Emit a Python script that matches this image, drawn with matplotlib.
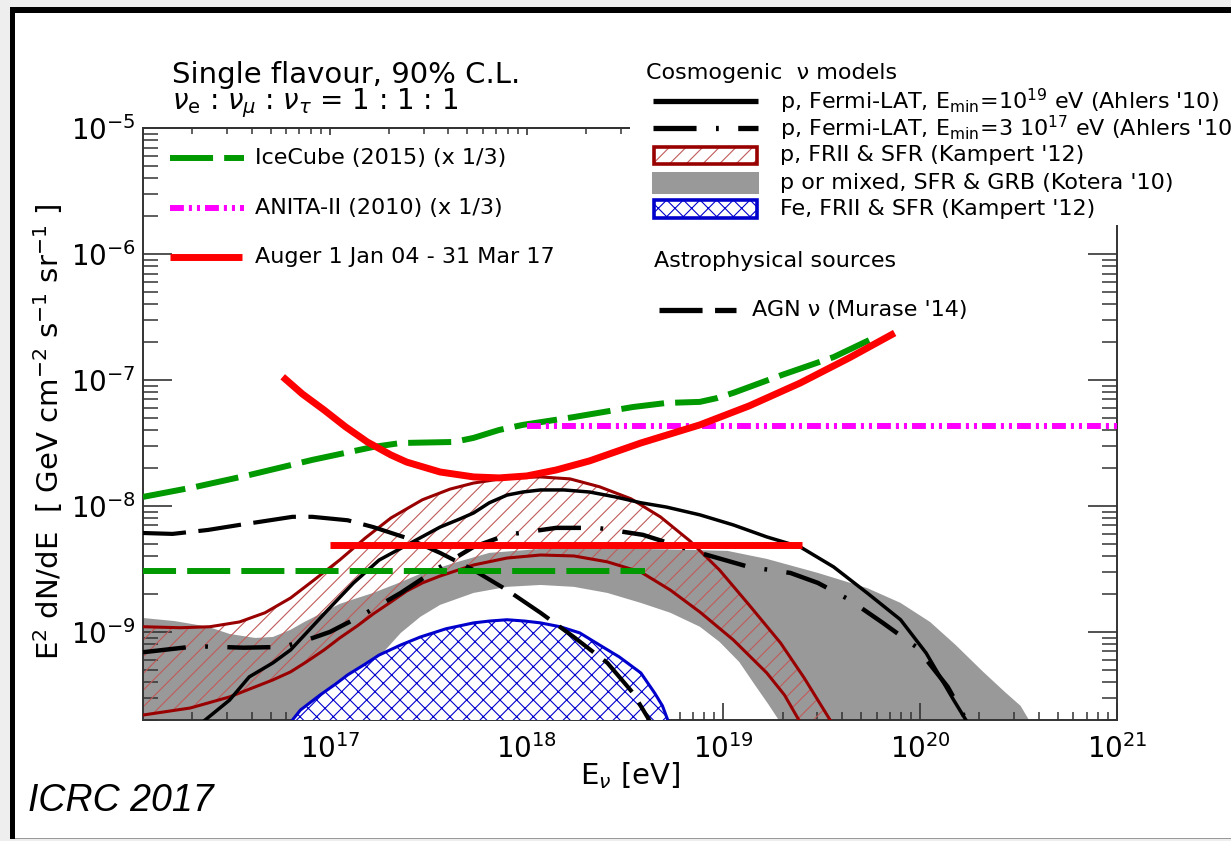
import numpy as np
import matplotlib
matplotlib.use("Agg")
import matplotlib.pyplot as plt
from matplotlib.patches import Rectangle, Polygon
from matplotlib.ticker import LogLocator, NullFormatter, LogFormatterMathtext

plt.rcParams['font.family'] = ['DejaVu Sans']
plt.rcParams['mathtext.fontset'] = 'dejavusans'
plt.rcParams['lines.scale_dashes'] = False
plt.rcParams['hatch.linewidth'] = 0.8

# ---------------------------------------------------------------------------
# Data: log10(E_nu / eV) and E^2 dN/dE in GeV cm^-2 s^-1 sr^-1
# ---------------------------------------------------------------------------
icecube_lgE = [16.05, 16.32, 16.59, 16.91, 17.22, 17.36, 17.63, 17.73, 17.86,
               17.98, 18.24, 18.54, 18.71, 18.88, 18.97, 19.05, 19.30, 19.56, 19.74]
icecube_flux = [1.18e-8, 1.42e-8, 1.76e-8, 2.32e-8, 2.94e-8, 3.16e-8, 3.22e-8,
                3.47e-8, 4.01e-8, 4.40e-8, 5.08e-8, 6.10e-8, 6.57e-8, 6.70e-8,
                7.20e-8, 7.90e-8, 1.10e-7, 1.52e-7, 2.07e-7]

icecube_int_lgE = [16.0, 18.6]
icecube_int_flux = [3.05e-9, 3.05e-9]

anita_lgE = [18.0, 21.0]
anita_flux = [4.3e-8, 4.3e-8]

auger_lgE = [16.76, 16.86, 16.97, 17.08, 17.19, 17.31, 17.39, 17.56, 17.73,
             17.86, 18.00, 18.15, 18.32, 18.58, 18.88, 19.13, 19.39, 19.64, 19.87]
auger_flux = [1.06e-7, 7.74e-8, 5.78e-8, 4.24e-8, 3.22e-8, 2.54e-8, 2.23e-8,
              1.86e-8, 1.70e-8, 1.67e-8, 1.73e-8, 1.93e-8, 2.28e-8, 3.16e-8,
              4.40e-8, 6.22e-8, 9.46e-8, 1.50e-7, 2.36e-7]

auger_int_lgE = [17.0, 19.4]
auger_int_flux = [4.9e-9, 4.9e-9]

ahlers19_lgE = [16.33, 16.49, 16.59, 16.71, 16.80, 16.88, 16.99, 17.12, 17.25,
                17.41, 17.56, 17.66, 17.73, 17.81, 17.90, 17.98, 18.07, 18.19,
                18.32, 18.45, 18.58, 18.71, 18.88, 19.05, 19.22, 19.39, 19.56,
                19.73, 19.90, 20.03, 20.17, 20.25]
ahlers19_flux = [1.8e-10, 2.88e-10, 4.4e-10, 5.68e-10, 7.2e-10, 9.8e-10, 1.5e-9,
                 2.45e-9, 3.72e-9, 5.08e-9, 6.8e-9, 7.88e-9, 8.8e-9, 1.06e-8,
                 1.22e-8, 1.29e-8, 1.34e-8, 1.34e-8, 1.29e-8, 1.18e-8, 1.06e-8,
                 9.8e-9, 8.5e-9, 7.07e-9, 5.68e-9, 4.73e-9, 3.28e-9, 2.04e-9,
                 1.25e-9, 6.8e-10, 2.88e-10, 1.8e-10]

ahlers17_lgE = [16.05, 16.32, 16.56, 16.76, 16.88, 17.00, 17.15, 17.36, 17.56,
                17.73, 17.90, 18.15, 18.36, 18.59, 18.88, 19.13, 19.34, 19.48,
                19.64, 19.81, 19.98, 20.14, 20.25]
ahlers17_flux = [6.9e-10, 7.7e-10, 7.5e-10, 7.6e-10, 8.6e-10, 1.0e-9, 1.32e-9,
                 2.04e-9, 3.28e-9, 4.73e-9, 5.9e-9, 6.7e-9, 6.7e-9, 5.9e-9,
                 4.24e-9, 3.28e-9, 2.94e-9, 2.45e-9, 1.8e-9, 1.18e-9, 7.6e-10,
                 3.66e-10, 1.8e-10]

murase_lgE = [16.05, 16.20, 16.38, 16.54, 16.81, 16.91, 17.09, 17.22, 17.39,
              17.56, 17.73, 17.90, 18.07, 18.24, 18.41, 18.54, 18.64]
murase_flux = [6.1e-9, 6.0e-9, 6.45e-9, 7.07e-9, 8.2e-9, 8.2e-9, 7.7e-9, 6.8e-9,
               5.57e-9, 4.24e-9, 3.1e-9, 2.15e-9, 1.42e-9, 9.1e-10, 5.68e-10,
               3.28e-10, 1.8e-10]

kampert_p_hi_lgE = [16.05, 16.24, 16.39, 16.54, 16.67, 16.80, 16.92, 17.05,
                    17.18, 17.31, 17.47, 17.61, 17.73, 17.90, 18.07, 18.22,
                    18.37, 18.53, 18.68, 18.83, 18.98, 19.13, 19.29, 19.41,
                    19.56]
kampert_p_hi_flux = [1.10e-9, 1.08e-9, 1.10e-9, 1.20e-9, 1.42e-9, 1.86e-9,
                     2.59e-9, 3.73e-9, 5.57e-9, 8.03e-9, 1.12e-8, 1.36e-8,
                     1.52e-8, 1.67e-8, 1.70e-8, 1.64e-8, 1.42e-8, 1.14e-8,
                     8.18e-9, 5.27e-9, 3.10e-9, 1.64e-9, 8.18e-10, 4.32e-10,
                     1.8e-10]

kampert_p_lo_lgE = [16.05, 16.29, 16.49, 16.71, 16.80, 16.88, 16.97, 17.05,
                    17.14, 17.22, 17.31, 17.39, 17.47, 17.56, 17.73, 17.90,
                    18.07, 18.24, 18.41, 18.58, 18.73, 18.88, 19.05, 19.22,
                    19.31, 19.40]
kampert_p_lo_flux = [2.19e-10, 2.49e-10, 3.05e-10, 4.16e-10, 4.82e-10, 5.78e-10,
                     7.19e-10, 8.96e-10, 1.12e-9, 1.39e-9, 1.73e-9, 2.11e-9,
                     2.45e-9, 2.78e-9, 3.40e-9, 3.86e-9, 4.08e-9, 4.01e-9,
                     3.60e-9, 2.99e-9, 2.15e-9, 1.44e-9, 8.65e-10, 4.73e-10,
                     3.16e-10, 1.8e-10]

kotera_hi_lgE = [16.05, 16.21, 16.38, 16.49, 16.62, 16.71, 16.80, 16.87, 16.97,
                 17.05, 17.14, 17.22, 17.35, 17.47, 17.65, 17.81, 18.07, 18.32,
                 18.58, 18.83, 19.02, 19.22, 19.48, 19.73, 19.90, 20.05, 20.18,
                 20.32, 20.43, 20.51, 20.57]
kotera_hi_flux = [1.29e-9, 1.22e-9, 1.10e-9, 9.64e-10, 8.96e-10, 9.12e-10,
                  1.04e-9, 1.20e-9, 1.44e-9, 1.67e-9, 1.86e-9, 2.04e-9, 2.45e-9,
                  2.94e-9, 3.60e-9, 4.24e-9, 4.56e-9, 4.65e-9, 4.56e-9, 4.48e-9,
                  4.40e-9, 3.80e-9, 2.94e-9, 2.23e-9, 1.70e-9, 1.20e-9, 7.88e-10,
                  4.82e-10, 3.34e-10, 2.59e-10, 1.8e-10]

kotera_lo_lgE = [16.05, 16.60, 16.80, 17.05, 17.25, 17.36, 17.46, 17.56, 17.73,
                 17.90, 18.07, 18.24, 18.41, 18.58, 18.73, 18.88, 18.98, 19.08,
                 19.16, 19.23, 19.30]
kotera_lo_flux = [1.0e-10, 1.5e-10, 1.67e-10, 2.88e-10, 6.34e-10, 9.82e-10,
                  1.32e-9, 1.64e-9, 2.04e-9, 2.28e-9, 2.36e-9, 2.28e-9, 2.04e-9,
                  1.70e-9, 1.42e-9, 1.10e-9, 8.34e-10, 5.78e-10, 3.79e-10,
                  2.64e-10, 1.8e-10]

kampert_fe_lgE = [16.76, 16.85, 16.95, 17.03, 17.09, 17.18, 17.25, 17.36, 17.46,
                  17.59, 17.73, 17.81, 17.90, 17.99, 18.07, 18.17, 18.27, 18.37,
                  18.47, 18.58, 18.65, 18.69, 18.74]
kampert_fe_flux = [1.6e-10, 2.40e-10, 3.16e-10, 3.87e-10, 4.56e-10, 5.57e-10,
                   6.56e-10, 7.88e-10, 9.12e-10, 1.06e-9, 1.18e-9, 1.22e-9,
                   1.25e-9, 1.22e-9, 1.18e-9, 1.10e-9, 9.82e-10, 7.88e-10,
                   6.34e-10, 4.73e-10, 3.28e-10, 2.59e-10, 1.6e-10]

x_range = (10 ** 16.05, 1e21)
y_range = (2e-10, 1e-5)


def E(lg):
    return 10.0 ** np.asarray(lg)


# ---------------------------------------------------------------------------
# Colours and dash patterns (points)
# ---------------------------------------------------------------------------
GREEN = '#009900'
RED = '#ff0000'
MAGENTA = '#ff00ff'
DARKRED = '#990000'
HATCHRED = '#c05a5a'
GREY = '#999999'
BLUE = '#0000cc'
AXCOL = '#333333'

DASH_ICECUBE = (0, (31, 8))
DASH_ANITA = (0, (10, 3.6, 2.2, 3.6, 2.2, 3.6))
DASH_AHLERS17 = (0, (31, 14, 2, 14))
DASH_MURASE = (0, (31, 9))

fig = plt.figure(figsize=(12.31, 8.41), dpi=100)
fig.patch.set_facecolor('white')
ax = fig.add_axes([143 / 1231, 1 - 720 / 841, 974 / 1231, 592 / 841])
ax.set_xscale('log')
ax.set_yscale('log')
ax.set_xlim(*x_range)
ax.set_ylim(*y_range)

# Kotera band (grey)
kotera_poly = np.column_stack([
    np.concatenate([E(kotera_hi_lgE), E(kotera_lo_lgE)[::-1]]),
    np.concatenate([kotera_hi_flux, kotera_lo_flux[::-1]])])
ax.add_patch(Polygon(kotera_poly, closed=True, facecolor=GREY, edgecolor='none',
                     linewidth=0, zorder=1))

# Kampert proton band (hatched)
kp_poly = np.column_stack([
    np.concatenate([E(kampert_p_hi_lgE), E(kampert_p_lo_lgE)[::-1]]),
    np.concatenate([kampert_p_hi_flux, kampert_p_lo_flux[::-1]])])
ax.add_patch(Polygon(kp_poly, closed=True, facecolor='none', edgecolor=HATCHRED,
                     hatch='//', linewidth=0, zorder=2))
ax.plot(E(kampert_p_hi_lgE), kampert_p_hi_flux, color=DARKRED, lw=2.2, zorder=3)
ax.plot(E(kampert_p_lo_lgE), kampert_p_lo_flux, color=DARKRED, lw=2.2, zorder=3)

# Kampert iron (cross-hatched)
fe_poly = np.column_stack([E(kampert_fe_lgE), kampert_fe_flux])
ax.add_patch(Polygon(fe_poly, closed=True, facecolor='white', edgecolor=BLUE,
                     hatch='xx', linewidth=0, zorder=4))
ax.plot(E(kampert_fe_lgE), kampert_fe_flux, color=BLUE, lw=2.2, zorder=4.5)

# Cosmogenic / astrophysical model curves
ax.plot(E(ahlers19_lgE), ahlers19_flux, color='black', lw=2.5, zorder=5,
        solid_capstyle='butt', solid_joinstyle='round')
ax.plot(E(ahlers17_lgE), ahlers17_flux, color='black', lw=3.2, zorder=5,
        linestyle=DASH_AHLERS17, dash_capstyle='butt')
ax.plot(E(murase_lgE), murase_flux, color='black', lw=3.0, zorder=5,
        linestyle=DASH_MURASE, dash_capstyle='butt')

# Experimental limits
ax.plot(E(icecube_lgE), icecube_flux, color=GREEN, lw=4.3, zorder=6,
        linestyle=DASH_ICECUBE, dash_capstyle='butt')
ax.plot(E(icecube_int_lgE), icecube_int_flux, color=GREEN, lw=4.3, zorder=6,
        linestyle=DASH_ICECUBE, dash_capstyle='butt')
ax.plot(E(anita_lgE), anita_flux, color=MAGENTA, lw=4.3, zorder=6,
        linestyle=DASH_ANITA, dash_capstyle='butt')
ax.plot(E(auger_lgE), auger_flux, color=RED, lw=5.0, zorder=7,
        solid_capstyle='butt', solid_joinstyle='round')
ax.plot(E(auger_int_lgE), auger_int_flux, color=RED, lw=5.0, zorder=7,
        solid_capstyle='butt')

# Axes styling
for sp in ax.spines.values():
    sp.set_color(AXCOL)
    sp.set_linewidth(1.4)

ax.xaxis.set_major_locator(LogLocator(base=10, numticks=20))
ax.xaxis.set_minor_locator(LogLocator(base=10, subs=np.arange(2, 10), numticks=100))
ax.yaxis.set_major_locator(LogLocator(base=10, numticks=20))
ax.yaxis.set_minor_locator(LogLocator(base=10, subs=np.arange(2, 10), numticks=100))
ax.xaxis.set_major_formatter(LogFormatterMathtext())
ax.yaxis.set_major_formatter(LogFormatterMathtext())
ax.xaxis.set_minor_formatter(NullFormatter())
ax.yaxis.set_minor_formatter(NullFormatter())

ax.tick_params(axis='x', which='major', direction='in', length=12, width=1.2,
               color=AXCOL, top=False, labelsize=20, pad=10)
ax.tick_params(axis='x', which='minor', direction='in', length=6, width=1.1,
               color=AXCOL, top=False)
ax.tick_params(axis='y', which='major', direction='in', length=21, width=1.2,
               color=AXCOL, right=True, labelsize=20, pad=5)
ax.tick_params(axis='y', which='minor', direction='in', length=11, width=1.1,
               color=AXCOL, right=True)

top = ax.secondary_xaxis('top')
top.xaxis.set_major_locator(LogLocator(base=10, numticks=20))
top.xaxis.set_minor_locator(LogLocator(base=10, subs=np.arange(2, 10), numticks=100))
top.tick_params(axis='x', which='major', direction='in', length=5, width=1.2,
                color=AXCOL, labeltop=False)
top.tick_params(axis='x', which='minor', direction='in', length=4, width=1.1,
                color=AXCOL, labeltop=False)
top.spines['top'].set_color(AXCOL)
top.spines['top'].set_linewidth(1.4)

ax.set_xlabel(r'E$_{\nu}$ [eV]', fontsize=21)
ax.xaxis.set_label_coords(0.5, -0.0946)
ax.xaxis.label.set_va('center')
ax.set_ylabel(r'E$^{2}$ dN/dE  [ GeV cm$^{-2}$ s$^{-1}$ sr$^{-1}$ ]', fontsize=21)
ax.yaxis.set_label_coords(-0.0975, 0.4865)
ax.yaxis.label.set_va('center')

# ---------------------------------------------------------------------------
# Overlay in pixel coordinates: titles, legends, frame
# ---------------------------------------------------------------------------
ov = fig.add_axes([0, 0, 1, 1], zorder=10)
ov.set_xlim(0, 1231)
ov.set_ylim(841, 0)
ov.set_axis_off()
ov.patch.set_alpha(0)

# white panel behind the model legend
ov.add_patch(Rectangle((630, 14), 601, 211, facecolor='white', edgecolor='none'))

ov.text(172, 75, 'Single flavour, 90% C.L.', fontsize=21, va='center', ha='left')
ov.text(172, 103, r'$\nu_{\mathrm{e}}$ : $\nu_{\mu}$ : $\nu_{\tau}$ = 1 : 1 : 1',
        fontsize=20, va='center', ha='left')

# experiment legend
leg_fs = 16
ov.plot([170, 244], [158, 158], color=GREEN, lw=4.3, linestyle=DASH_ICECUBE,
        dash_capstyle='butt')
ov.text(255, 158, 'IceCube (2015) (x 1/3)', fontsize=leg_fs, va='center')
ov.plot([170, 244], [208, 208], color=MAGENTA, lw=4.3, linestyle=DASH_ANITA,
        dash_capstyle='butt')
ov.text(255, 208, 'ANITA-II (2010) (x 1/3)', fontsize=leg_fs, va='center')
ov.plot([170, 242], [257, 257], color=RED, lw=5.0, solid_capstyle='butt')
ov.text(255, 257, 'Auger 1 Jan 04 - 31 Mar 17', fontsize=leg_fs, va='center')

# model legend
ov.text(646, 73, 'Cosmogenic  ν models', fontsize=leg_fs, va='center')
ov.plot([653, 758], [101, 101], color='black', lw=3.8, solid_capstyle='butt')
ov.text(780, 101, r"p, Fermi-LAT, E$_{\mathrm{min}}$=10$^{19}$ eV (Ahlers '10)",
        fontsize=leg_fs, va='center')
ov.plot([653, 758], [128, 128], color='black', lw=3.8, linestyle=DASH_AHLERS17,
        dash_capstyle='butt')
ov.text(780, 128, r"p, Fermi-LAT, E$_{\mathrm{min}}$=3 10$^{17}$ eV (Ahlers '10)",
        fontsize=leg_fs, va='center')
ov.add_patch(Rectangle((654, 147), 103, 17, facecolor='none', edgecolor=HATCHRED,
                       hatch='//', linewidth=0))
ov.add_patch(Rectangle((654, 147), 103, 17, facecolor='none', edgecolor=DARKRED,
                       linewidth=2.6))
ov.text(780, 155, "p, FRII & SFR (Kampert '12)", fontsize=leg_fs, va='center')
ov.add_patch(Rectangle((652, 172), 107, 22, facecolor=GREY, edgecolor='none'))
ov.text(780, 183, "p or mixed, SFR & GRB (Kotera '10)", fontsize=leg_fs, va='center')
ov.add_patch(Rectangle((654, 200), 103, 18, facecolor='white', edgecolor=BLUE,
                       hatch='xx', linewidth=2.6))
ov.text(780, 209, "Fe, FRII & SFR (Kampert '12)", fontsize=leg_fs, va='center')

ov.text(654, 261, 'Astrophysical sources', fontsize=leg_fs, va='center')
ov.plot([659, 736], [310, 310], color='black', lw=3.8, linestyle=DASH_MURASE,
        dash_capstyle='butt')
ov.text(752, 310, "AGN ν (Murase '14)", fontsize=leg_fs, va='center')

ov.text(28, 801, 'ICRC 2017', fontsize=27, style='italic', va='center',
        family=['Liberation Sans', 'DejaVu Sans'])

# slide frame
ov.add_patch(Rectangle((0, 0), 1231, 7, facecolor='#eeeeee', edgecolor='none'))
ov.add_patch(Rectangle((0, 0), 10, 841, facecolor='#eeeeee', edgecolor='none'))
ov.add_patch(Rectangle((0, 839), 1231, 2, facecolor='#eeeeee', edgecolor='none'))
ov.add_patch(Rectangle((10, 7), 1221, 6, facecolor='black', edgecolor='none'))
ov.add_patch(Rectangle((10, 7), 5, 832, facecolor='black', edgecolor='none'))
ov.add_patch(Rectangle((15, 837.5), 1216, 1.5, facecolor='#999999', edgecolor='none'))

fig.savefig('out.png', dpi=100, facecolor='white')
